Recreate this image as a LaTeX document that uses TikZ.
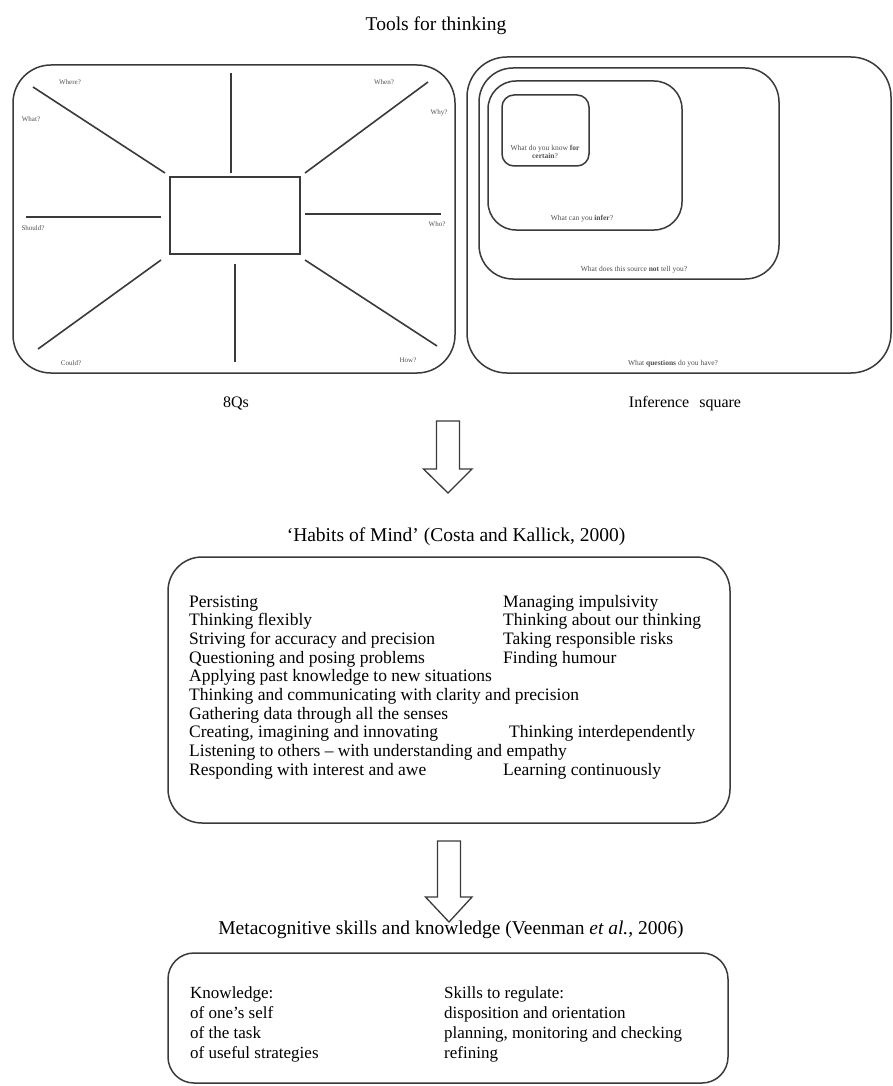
\documentclass[tikz,border=0pt]{standalone}
\usepackage{fontspec}
\setmainfont{Liberation Serif}
\usetikzlibrary{calc}
\begin{document}
\begin{tikzpicture}[x=1pt,y=-1pt,
  frame/.style={draw=linec, line width=1.5pt, inner sep=0pt, outer sep=0pt, anchor=north west},
  spoke/.style={draw=linec, line width=1.6pt},
  qlabel/.style={font=\fontsize{7}{8}\selectfont, text=qtext, inner sep=0pt},
  inflabel/.style={font=\fontsize{7.5}{8.6}\selectfont, text=qtext, align=center, inner sep=0pt},
  heading/.style={font=\fontsize{19.5}{22}\selectfont, anchor=base, inner sep=0pt},
  caption/.style={font=\fontsize{16}{18}\selectfont, anchor=base, inner sep=0pt},
  body/.style={font=\fontsize{17.5}{20}\selectfont, anchor=base west, inner sep=0pt},
  blockarrow/.style={draw=linec, line width=1.3pt, fill=white, line join=miter}
]
\definecolor{linec}{HTML}{3A3A3A}
\definecolor{qtext}{HTML}{505050}
\useasboundingbox[fill=white] (0,0) rectangle (893,1086);

% ---------- heading ----------
\node[heading] (tools) at (436,31) {Tools for thinking};

% ---------- 8Qs ----------
\node[frame, rounded corners=38pt, minimum width=442pt, minimum height=308pt] (qframe) at (13,65) {};
\node[frame, minimum width=130pt, minimum height=77pt] (qcentre) at (170,177) {};

\coordinate (sN) at (231,73);   \coordinate (sNe) at (231,173);
\coordinate (sNW) at (33,87);   \coordinate (sNWe) at (165,173);
\coordinate (sNE) at (428,82);  \coordinate (sNEe) at (305,173);
\coordinate (sW) at (26,217);   \coordinate (sWe) at (161,217);
\coordinate (sE) at (441,214);  \coordinate (sEe) at (305,214);
\coordinate (sSW) at (38,349);  \coordinate (sSWe) at (161,260);
\coordinate (sS) at (235,362);  \coordinate (sSe) at (235,264);
\coordinate (sSE) at (437,346); \coordinate (sSEe) at (305,260);
\foreach \s in {N,NW,NE,W,E,SW,S,SE}
  \draw[spoke] (s\s) -- (s\s e);

\node[qlabel] (qwhere)  at (70,82)   {Where?};
\node[qlabel] (qwhat)   at (31,119)  {What?};
\node[qlabel] (qwhen)   at (384,82)  {When?};
\node[qlabel] (qwhy)    at (439,113) {Why?};
\node[qlabel] (qshould) at (33,228)  {Should?};
\node[qlabel] (qwho)    at (437,224) {Who?};
\node[qlabel] (qcould)  at (71,363)  {Could?};
\node[qlabel] (qhow)    at (408,360) {How?};

\node[caption] (cap8q) at (236,407) {8Qs};

% ---------- Inference square ----------
\node[frame, rounded corners=40pt, minimum width=424pt, minimum height=316pt] (inf1) at (467,57) {};
\node[frame, rounded corners=34pt, minimum width=300pt, minimum height=211pt] (inf2) at (479,68) {};
\node[frame, rounded corners=28pt, minimum width=194pt, minimum height=149pt] (inf3) at (488,81) {};
\node[frame, rounded corners=12pt, minimum width=87pt, minimum height=71pt] (inf4) at (502,95) {};

\node[inflabel] (tcertain) at (545,152) {What do you know \textbf{for}\\\textbf{certain}?};
\node[inflabel] (tinfer)   at (582,219) {What can you \textbf{infer}?};
\node[inflabel] (tnot)     at (634,270) {What does this source \textbf{not} tell you?};
\node[inflabel] (tquest)   at (673,364) {What \textbf{questions} do you have?};

\node[caption] (capinf) at (685,407) {Inference\hspace{10pt}square};

% ---------- first block arrow ----------
\coordinate (a1) at (448,421);
\draw[blockarrow] ($(a1)+(-11.5,0)$) -- ++(0,48) -- ++(-13,0) -- ($(a1)+(0,72)$)
  -- ($(a1)+(24,48)$) -- ++(-12.5,0) -- ++(0,-48) -- cycle;

% ---------- Habits of Mind ----------
\node[heading] (habits) at (456,541) {‘Habits of Mind’ (Costa and Kallick, 2000)};
\node[frame, rounded corners=34pt, minimum width=562pt, minimum height=266pt] (hbox) at (168,557) {};

\foreach \t [count=\i] in {Persisting,Thinking flexibly,Striving for accuracy and precision,
  Questioning and posing problems,Applying past knowledge to new situations,
  Thinking and communicating with clarity and precision,Gathering data through all the senses,
  {Creating, imagining and innovating},Listening to others -- with understanding and empathy,
  Responding with interest and awe}
  \node[body] (hl\i) at (189,{607+18.67*(\i-1)}) {\t};

\node[body] (hr1)  at (503,607)               {Managing impulsivity};
\node[body] (hr2)  at (503,{607+18.67})       {Thinking about our thinking};
\node[body] (hr3)  at (503,{607+18.67*2})     {Taking responsible risks};
\node[body] (hr4)  at (503,{607+18.67*3})     {Finding humour};
\node[body] (hr8)  at (509,{607+18.67*7})     {Thinking interdependently};
\node[body] (hr10) at (503,{607+18.67*9})     {Learning continuously};

% ---------- second block arrow ----------
\coordinate (a2) at (449,841);
\draw[blockarrow] ($(a2)+(-11.5,0)$) -- ++(0,56) -- ++(-12,0) -- ($(a2)+(0,81)$)
  -- ($(a2)+(23,56)$) -- ++(-11.5,0) -- ++(0,-56) -- cycle;

% ---------- Metacognitive skills ----------
\node[heading] (meta) at (451,934) {Metacognitive skills and knowledge (Veenman \textit{et al.}, 2006)};
\node[frame, rounded corners=26pt, minimum width=560pt, minimum height=130pt] (mbox) at (168,953) {};

\node[body, font=\fontsize{17}{20}\selectfont] (mk1) at (190,998)  {Knowledge:};
\node[body, font=\fontsize{17}{20}\selectfont] (mk2) at (190,1018) {of one’s self};
\node[body, font=\fontsize{17}{20}\selectfont] (mk3) at (190,1038) {of the task};
\node[body, font=\fontsize{17}{20}\selectfont] (mk4) at (190,1058) {of useful strategies};

\node[body, font=\fontsize{17}{20}\selectfont] (ms1) at (444,998)  {Skills to regulate:};
\node[body, font=\fontsize{17}{20}\selectfont] (ms2) at (444,1018) {disposition and orientation};
\node[body, font=\fontsize{17}{20}\selectfont] (ms3) at (444,1038) {planning, monitoring and checking};
\node[body, font=\fontsize{17}{20}\selectfont] (ms4) at (444,1058) {refining};
\end{tikzpicture}
\end{document}
